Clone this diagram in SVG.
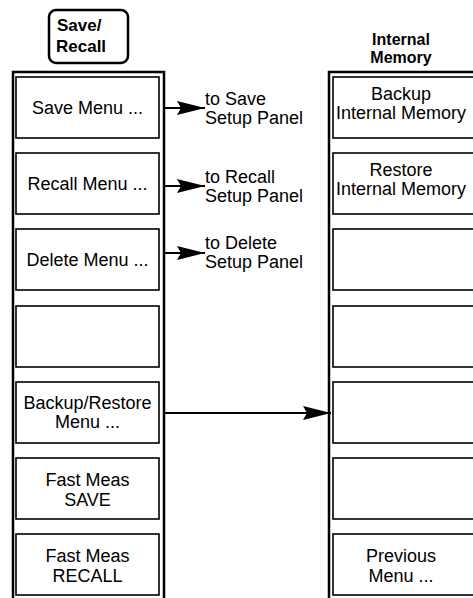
<svg xmlns="http://www.w3.org/2000/svg" width="473" height="598" viewBox="0 0 473 598">
  <style>
    .frame { fill: none; stroke: #000; stroke-width: 2.5; }
    .key { fill: #fff; stroke: #000; stroke-width: 1.6; }
    .hard { fill: #fff; stroke: #000; stroke-width: 2.5; }
    .lbl { font-family: "Liberation Sans", Arial, sans-serif; font-size: 18px; fill: #000; text-anchor: middle; }
    .note { font-family: "Liberation Sans", Arial, sans-serif; font-size: 18px; fill: #000; }
    .head { font-family: "Liberation Sans", Arial, sans-serif; font-size: 17px; font-weight: bold; fill: #000; }
    .wire { stroke: #000; stroke-width: 2.2; fill: none; }
  </style>
  <defs>
    <marker id="tip" markerUnits="userSpaceOnUse" markerWidth="28" markerHeight="14" refX="28" refY="7" orient="auto">
      <path d="M0,0 L28,7 L0,14 L4,7 Z" fill="#000"/>
    </marker>
  </defs>

  <rect width="473" height="598" fill="#fff"/>

  <!-- hardkey -->
  <g id="save-recall-key">
    <rect class="hard" x="49" y="10" width="79" height="53" rx="7"/>
    <text class="head" x="57" y="31">Save/</text>
    <text class="head" x="56" y="52">Recall</text>
  </g>

  <!-- menu panel frames -->
  <g id="save-recall-menu">
    <rect class="frame" x="13" y="72" width="151" height="540"/>
  </g>
  <g id="internal-memory-menu">
    <rect class="frame" x="329" y="72" width="160" height="540"/>
    <text class="head" x="401" y="45" text-anchor="middle" style="font-size:16px">Internal</text>
    <text class="head" x="401" y="63" text-anchor="middle" style="font-size:16px">Memory</text>
  </g>

  <!-- left softkeys -->
  <g id="key-save-menu">
    <rect class="key" x="16" y="77" width="143" height="61"/>
    <text class="lbl" x="87.5" y="114">Save Menu ...</text>
  </g>
  <g id="key-recall-menu">
    <rect class="key" x="16" y="153" width="143" height="61"/>
    <text class="lbl" x="87.5" y="190">Recall Menu ...</text>
  </g>
  <g id="key-delete-menu">
    <rect class="key" x="16" y="229" width="143" height="61"/>
    <text class="lbl" x="87.5" y="266">Delete Menu ...</text>
  </g>
  <g id="key-blank-left">
    <rect class="key" x="16" y="306" width="143" height="61"/>
  </g>
  <g id="key-backup-restore">
    <rect class="key" x="16" y="382" width="143" height="61"/>
    <text class="lbl" x="87.5" y="409">Backup/Restore</text>
    <text class="lbl" x="87.5" y="428">Menu ...</text>
  </g>
  <g id="key-fast-save">
    <rect class="key" x="16" y="458" width="143" height="61"/>
    <text class="lbl" x="87.5" y="486">Fast Meas</text>
    <text class="lbl" x="87.5" y="506">SAVE</text>
  </g>
  <g id="key-fast-recall">
    <rect class="key" x="16" y="534" width="143" height="61"/>
    <text class="lbl" x="87.5" y="562">Fast Meas</text>
    <text class="lbl" x="87.5" y="582">RECALL</text>
  </g>

  <!-- right softkeys -->
  <g id="key-backup-internal">
    <rect class="key" x="333" y="77" width="150" height="61"/>
    <text class="lbl" x="401" y="100">Backup</text>
    <text class="lbl" x="401" y="119">Internal Memory</text>
  </g>
  <g id="key-restore-internal">
    <rect class="key" x="333" y="153" width="150" height="61"/>
    <text class="lbl" x="401" y="176">Restore</text>
    <text class="lbl" x="401" y="195">Internal Memory</text>
  </g>
  <g id="key-blank-r3"><rect class="key" x="333" y="229" width="150" height="61"/></g>
  <g id="key-blank-r4"><rect class="key" x="333" y="306" width="150" height="61"/></g>
  <g id="key-blank-r5"><rect class="key" x="333" y="382" width="150" height="61"/></g>
  <g id="key-blank-r6"><rect class="key" x="333" y="458" width="150" height="61"/></g>
  <g id="key-previous-menu">
    <rect class="key" x="333" y="534" width="150" height="61"/>
    <text class="lbl" x="401" y="562">Previous</text>
    <text class="lbl" x="401" y="582">Menu ...</text>
  </g>

  <!-- destination notes -->
  <g id="note-save">
    <text class="note" x="205" y="105">to Save</text>
    <text class="note" x="205" y="124">Setup Panel</text>
  </g>
  <g id="note-recall">
    <text class="note" x="205" y="183">to Recall</text>
    <text class="note" x="205" y="202">Setup Panel</text>
  </g>
  <g id="note-delete">
    <text class="note" x="205" y="249">to Delete</text>
    <text class="note" x="205" y="268">Setup Panel</text>
  </g>

  <!-- connectors -->
  <g id="connectors">
    <line class="wire" x1="164" y1="108" x2="205" y2="108" marker-end="url(#tip)"/>
    <line class="wire" x1="164" y1="186" x2="205" y2="186" marker-end="url(#tip)"/>
    <line class="wire" x1="164" y1="253" x2="205" y2="253" marker-end="url(#tip)"/>
    <line class="wire" x1="164" y1="413" x2="331" y2="413" marker-end="url(#tip)"/>
  </g>
</svg>
